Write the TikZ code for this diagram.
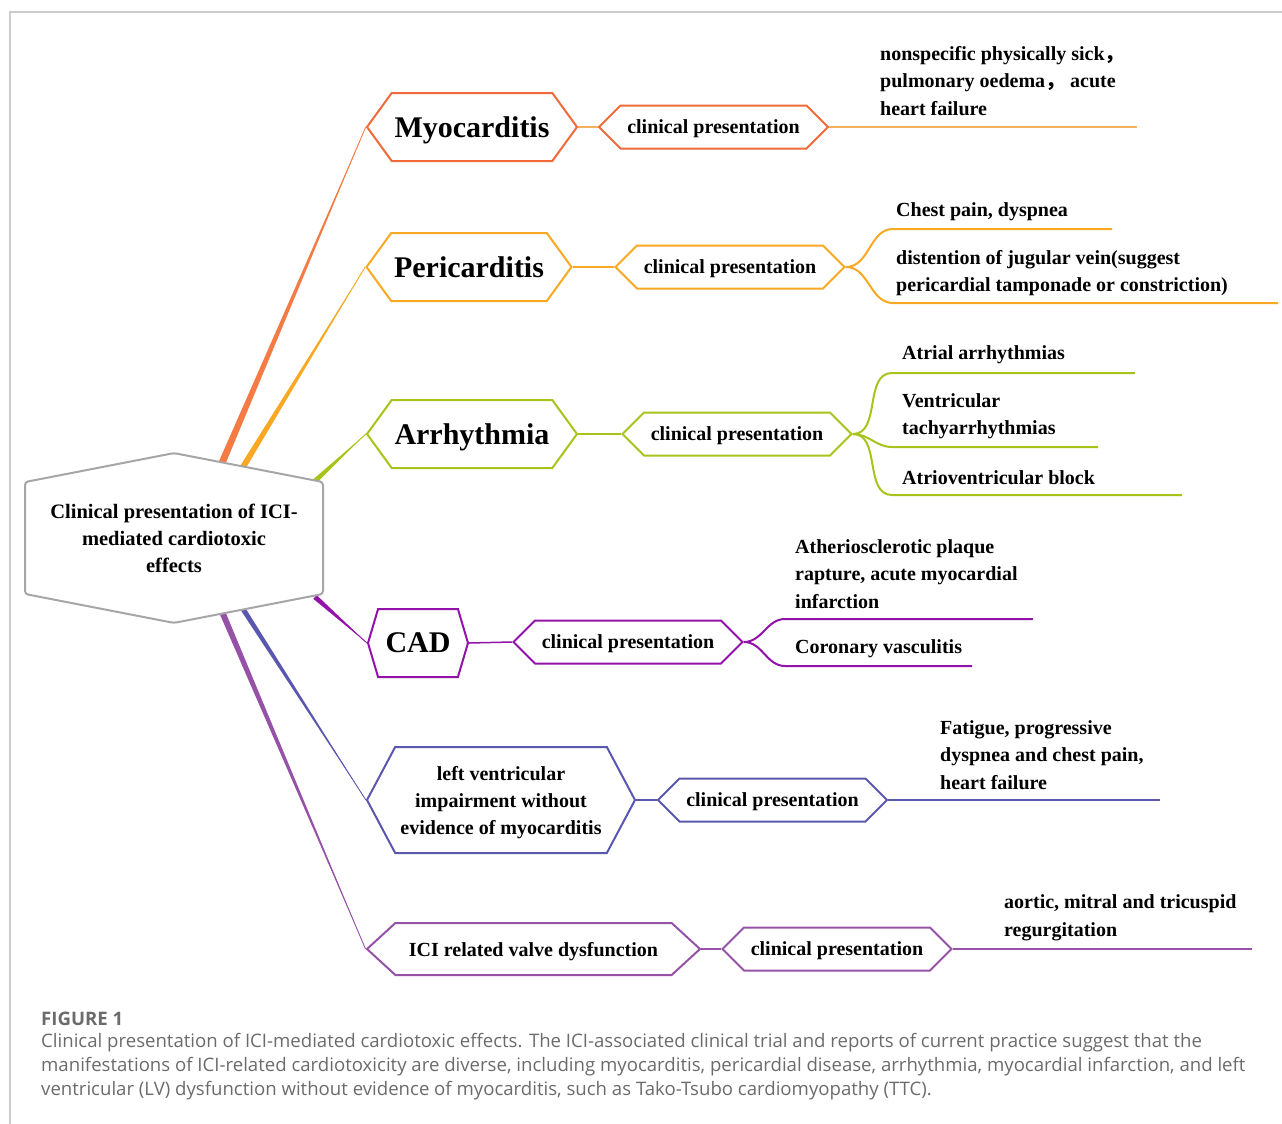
\documentclass[tikz,border=0pt]{standalone}
\usepackage{fontspec}
\setmainfont{Liberation Serif}
\newfontfamily\capfont{Open Sans}
\newfontfamily\cjk{Noto Sans CJK SC}
\usetikzlibrary{shapes.symbols,calc,backgrounds}

\definecolor{hubgray}{HTML}{A6A6A6}
\definecolor{framegray}{HTML}{CCCCCC}
\definecolor{capgray}{HTML}{6B6B6B}
\definecolor{myoc}{HTML}{F06A3A}
\definecolor{myob}{HTML}{F57B45}
\definecolor{myol}{HTML}{F5B25C}
\definecolor{peric}{HTML}{F8A823}
\definecolor{arrc}{HTML}{A7C41C}
\definecolor{cadc}{HTML}{9212AA}
\definecolor{lvc}{HTML}{5B57AF}
\definecolor{valc}{HTML}{9652A6}

\begin{document}
\begin{tikzpicture}[x=1pt,y=-1pt]
	\tikzset{hx/.style={signal, signal to=east and west, draw=#1, fill=white, line width=2pt, inner sep=0pt, text depth=0pt, align=center, font=\bfseries\fontsize{20}{27}\selectfont},
		big/.style={font=\bfseries\fontsize{30}{36}\selectfont},
		cp/.style={hx=#1, minimum width=229, minimum height=43, signal pointer angle=90},
		leaf/.style={anchor=west, inner sep=0pt, align=left, font=\bfseries\fontsize{20}{27.5}\selectfont},
		twig/.style={line width=2pt}};

	\useasboundingbox (0,0) rectangle (1282,1124);
	\draw[framegray, line width=1.5pt] (1282,12) -- (10,12) -- (10,1124);

	\node[hx=hubgray, signal to=north and south, signal pointer angle=158, minimum width=298, minimum height=160, rounded corners=3pt, font=\bfseries\fontsize{20.5}{27}\selectfont] (hub) at (174,538) {Clinical presentation of ICI-\\mediated cardiotoxic\\effects};

	\node[hx=myoc, big, minimum width=210, minimum height=68, signal pointer angle=108] (myo) at (472,127) {Myocarditis};
	\node[hx=peric, big, minimum width=205, minimum height=68, signal pointer angle=108] (peri) at (469,267) {Pericarditis};
	\node[hx=arrc, big, minimum width=210, minimum height=68, signal pointer angle=108] (arr) at (472,434) {Arrhythmia};
	\node[hx=cadc, big, minimum width=100, minimum height=68, signal pointer angle=147] (cad) at (418,643) {CAD};
	\node[hx=lvc, minimum width=268, minimum height=106, signal pointer angle=124] (lv) at (501,800) {left ventricular\\impairment without\\evidence of myocarditis};
	\node[hx=valc, minimum width=333, minimum height=52, signal pointer angle=85] (val) at (533.5,949) {ICI related valve dysfunction};

	\node[cp=myoc] (cp1) at (713.5,127) {clinical presentation};
	\node[cp=peric] (cp2) at (730,267) {clinical presentation};
	\node[cp=arrc] (cp3) at (737,434) {clinical presentation};
	\node[cp=cadc] (cp4) at (628,642) {clinical presentation};
	\node[cp=lvc] (cp5) at (772.5,800) {clinical presentation};
	\node[cp=valc] (cp6) at (837,949) {clinical presentation};

	\node[leaf] (m1t) at (880,81) {nonspecific physically sick{\cjk ，}\\pulmonary oedema{\cjk ，} acute\\heart failure};
	\node[leaf] (p1t) at (896,212) {Chest pain, dyspnea};
	\node[leaf] (p2t) at (896,273) {distention of jugular vein(suggest\\pericardial tamponade or constriction)};
	\node[leaf] (a1t) at (902,355) {Atrial arrhythmias};
	\node[leaf] (a2t) at (902,416) {Ventricular\\tachyarrhythmias};
	\node[leaf] (a3t) at (902,478) {Atrioventricular block};
	\node[leaf] (c1t) at (795,574) {Atheriosclerotic plaque\\rapture, acute myocardial\\infarction};
	\node[leaf] (c2t) at (795,649) {Coronary vasculitis};
	\node[leaf] (l1t) at (940,755) {Fatigue, progressive\\dyspnea and chest pain,\\heart failure};
	\node[leaf] (v1t) at (1004,918) {aortic, mitral and tricuspid\\regurgitation};

	% branches from the hub
	\coordinate (h1) at (222,463);
	\coordinate (h2) at (243,467);
	\coordinate (h3) at (315,481);
	\coordinate (h4) at (315,597);
	\coordinate (h5) at (243,609);
	\coordinate (h6) at (223,614);
	\begin{scope}[on background layer]
		\foreach \s/\t/\c/\w in {h1/myo/myob/3.5pt, h2/peri/peric/3pt, h3/arr/arrc/2.5pt, h4/cad/cadc/2.5pt, h5/lv/lvc/2.5pt, h6/val/valc/3pt}
		{
			\fill[\c] ($(\s)!\w!90:(\t.west)$) -- (\t.west) -- ($(\s)!\w!-90:(\t.west)$) -- cycle;
			\draw[\c, line width=0.8pt] (\s) -- (\t.west);
		}
	\end{scope}

	\draw[myol, line width=1.5pt] (myo.east) -- (cp1.west);
	\draw[peric, line width=1.5pt] (peri.east) -- (cp2.west);
	\draw[arrc, line width=1.5pt] (arr.east) -- (cp3.west);
	\draw[cadc, line width=1.5pt] (cad.east) -- (cp4.west);
	\draw[lvc, line width=1.5pt] (lv.east) -- (cp5.west);
	\draw[valc, line width=1.5pt] (val.east) -- (cp6.west);

	% leaves
	\coordinate (m1) at (1137,127);
	\draw[twig, myol] (cp1.east) -- (m1);

	\coordinate (p1) at (893,229);
	\coordinate (p1e) at (1112,229);
	\coordinate (p2) at (893,303);
	\coordinate (p2e) at (1278,303);
	\draw[twig, peric] (cp2.east) to[out=0, in=180] (p1) -- (p1e);
	\draw[twig, peric] (cp2.east) to[out=0, in=180] (p2) -- (p2e);

	\coordinate (a1) at (892,373);
	\coordinate (a1e) at (1135,373);
	\coordinate (a2) at (892,447);
	\coordinate (a2e) at (1098,447);
	\coordinate (a3) at (892,495);
	\coordinate (a3e) at (1182,495);
	\draw[twig, arrc] (cp3.east) to[out=0, in=180] (a1) -- (a1e);
	\draw[twig, arrc] (cp3.east) to[out=0, in=180] (a2) -- (a2e);
	\draw[twig, arrc] (cp3.east) to[out=0, in=180] (a3) -- (a3e);

	\coordinate (c1) at (785,619);
	\coordinate (c1e) at (1033,619);
	\coordinate (c2) at (785,666);
	\coordinate (c2e) at (972,666);
	\draw[twig, cadc] (cp4.east) to[out=0, in=180] (c1) -- (c1e);
	\draw[twig, cadc] (cp4.east) to[out=0, in=180] (c2) -- (c2e);

	\coordinate (l1) at (1160,800);
	\draw[twig, lvc] (cp5.east) -- (l1);

	\coordinate (v1) at (1252,949);
	\draw[twig, valc] (cp6.east) -- (v1);

	% caption
	\node[anchor=west, inner sep=0pt, text=capgray, font=\capfont\bfseries\fontsize{18.6}{20}\selectfont] (fig) at (41,1019) {FIGURE 1};
	\node[anchor=west, inner sep=0pt, align=left, text=capgray, font=\capfont\fontsize{18.6}{24}\selectfont] (cap) at (41,1067) {Clinical presentation of ICI-mediated cardiotoxic effects. The ICI-associated clinical trial and reports of current practice suggest that the\\manifestations of ICI-related cardiotoxicity are diverse, including myocarditis, pericardial disease, arrhythmia, myocardial infarction, and left\\ventricular (LV) dysfunction without evidence of myocarditis, such as Tako-Tsubo cardiomyopathy (TTC).};
\end{tikzpicture}
\end{document}
